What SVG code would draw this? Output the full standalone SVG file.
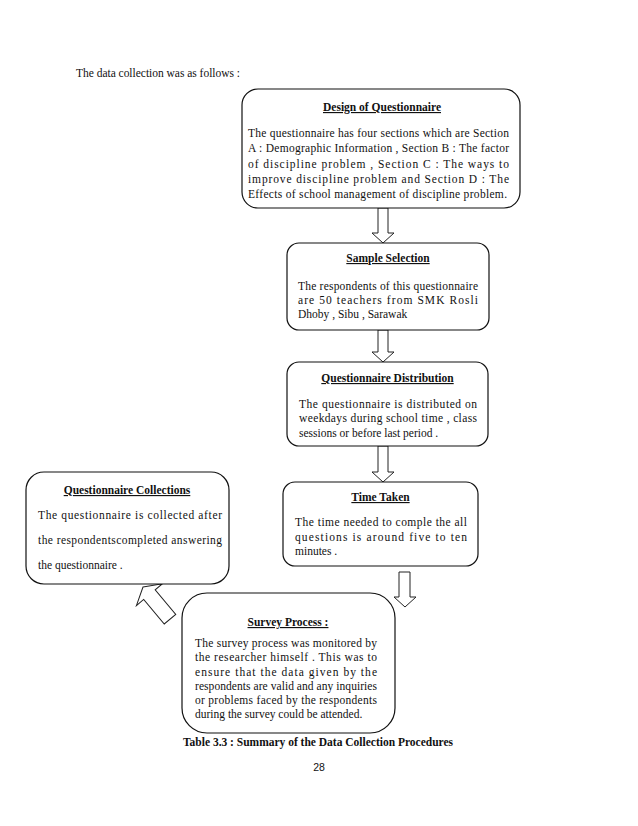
<svg xmlns="http://www.w3.org/2000/svg" width="638" height="826" viewBox="0 0 638 826">
<style>
text{font-family:"Liberation Serif","Times New Roman",serif;font-size:11.5px;fill:#111}
.t{font-weight:bold;text-decoration:underline;text-anchor:middle}
.box{fill:#fff;stroke:#111;stroke-width:1.2}
.arr{fill:#fff;stroke:#222;stroke-width:1}
</style>
<rect width="638" height="826" fill="#fff"/>
<text x="76" y="77" font-size="12" textLength="164" lengthAdjust="spacing">The data collection was as follows :</text>

<g id="connectors">
<path class="arr" d="M378,208 H388 V233 H394 L383,243 L372,233 H378 Z"/>
<path class="arr" d="M378,330 H388 V352 H394 L383,362 L372,352 H378 Z"/>
<path class="arr" d="M378,446 H388 V472 H394 L383,482 L372,472 H378 Z"/>
<path class="arr" d="M399,572 H410 V597 H416 L405,607 L394,597 H399 Z"/>
<path class="arr" transform="translate(143,587) rotate(-40)" d="M0,0 L17,10 H7.5 V42 H-7.5 V10 H-17 Z"/>
</g>

<g id="design">
<rect class="box" x="242" y="89" width="278" height="119" rx="16"/>
<text class="t" x="382" y="111">Design of Questionnaire</text>
<text x="248" y="137" textLength="261" lengthAdjust="spacing">The questionnaire has four  sections which are Section</text>
<text x="248" y="152" textLength="261" lengthAdjust="spacing">A : Demographic Information , Section B : The factor</text>
<text x="248" y="168" textLength="261" lengthAdjust="spacing">of discipline problem , Section C : The ways to</text>
<text x="248" y="183" textLength="261" lengthAdjust="spacing">improve discipline problem and Section D : The</text>
<text x="248" y="198" textLength="259" lengthAdjust="spacing">Effects of school management of discipline problem.</text>
</g>

<g id="sample">
<rect class="box" x="287" y="243" width="202" height="87" rx="12"/>
<text class="t" x="388" y="262">Sample Selection</text>
<text x="298" y="290" textLength="180" lengthAdjust="spacing">The respondents of this questionnaire</text>
<text x="298" y="304" textLength="180" lengthAdjust="spacing">are 50 teachers from SMK Rosli</text>
<text x="298" y="318">Dhoby , Sibu , Sarawak</text>
</g>

<g id="distribution">
<rect class="box" x="287" y="362" width="201" height="84" rx="12"/>
<text class="t" x="387.5" y="382">Questionnaire Distribution</text>
<text x="299" y="408" textLength="178" lengthAdjust="spacing">The questionnaire is distributed on</text>
<text x="299" y="422" textLength="178" lengthAdjust="spacing">weekdays during school time , class</text>
<text x="299" y="437">sessions or before last period .</text>
</g>

<g id="time">
<rect class="box" x="283" y="482" width="195" height="84" rx="12"/>
<text class="t" x="380.5" y="501">Time Taken</text>
<text x="295" y="526" textLength="172" lengthAdjust="spacing">The time needed to comple the all</text>
<text x="295" y="541" textLength="172" lengthAdjust="spacing">questions is around five to ten</text>
<text x="295" y="555">minutes .</text>
</g>

<g id="survey">
<rect class="box" x="182" y="593" width="213" height="140" rx="25"/>
<text class="t" x="288" y="626">Survey Process :</text>
<text x="195" y="647" textLength="182" lengthAdjust="spacing">The survey process was monitored by</text>
<text x="195" y="661" textLength="182" lengthAdjust="spacing">the researcher himself . This was to</text>
<text x="195" y="676" textLength="182" lengthAdjust="spacing">ensure that the data given by the</text>
<text x="195" y="690" textLength="182" lengthAdjust="spacing">respondents are valid and any inquiries</text>
<text x="195" y="704" textLength="182" lengthAdjust="spacing">or problems faced by the respondents</text>
<text x="195" y="718">during the survey could be attended.</text>
</g>

<g id="collections">
<rect class="box" x="26" y="472" width="203" height="112" rx="18"/>
<text class="t" x="127" y="494">Questionnaire Collections</text>
<text x="38" y="519" textLength="184" lengthAdjust="spacing">The questionnaire is collected after</text>
<text x="38" y="544" textLength="184" lengthAdjust="spacing">the respondentscompleted answering</text>
<text x="38" y="569">the questionnaire .</text>
</g>

<text x="183" y="746" font-weight="bold" font-size="12" textLength="270" lengthAdjust="spacing">Table 3.3 : Summary of the Data Collection Procedures</text>
<text x="319" y="771" text-anchor="middle" style="font-family:'Liberation Sans',Arial,sans-serif;font-size:10.5px">28</text>
</svg>
